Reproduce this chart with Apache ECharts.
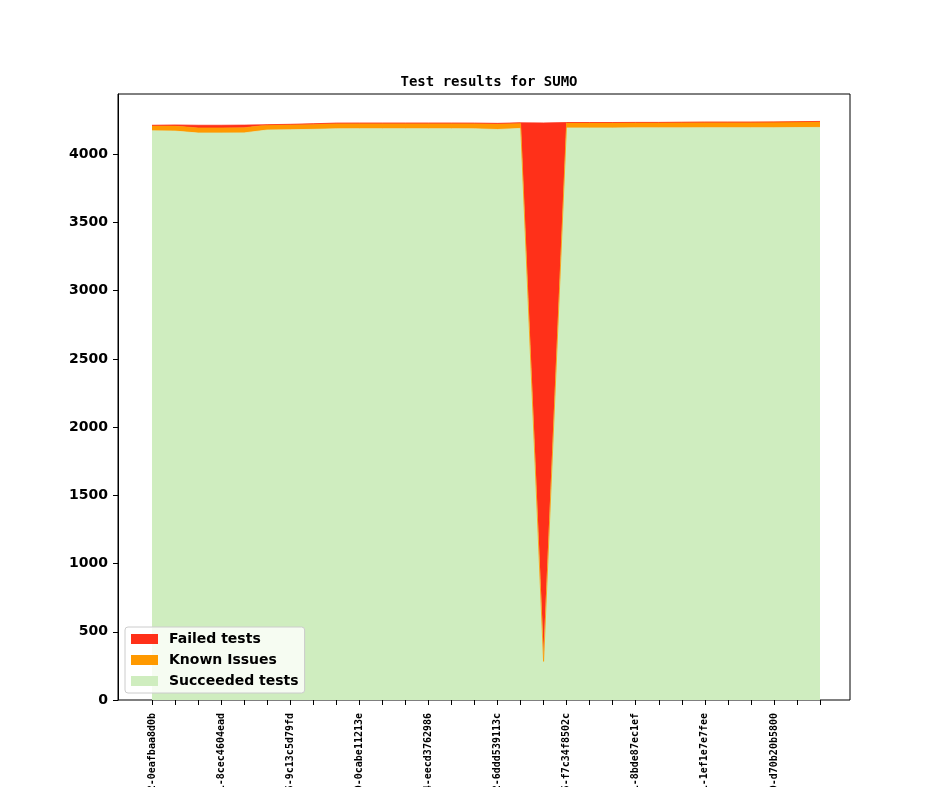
<!DOCTYPE html>
<html>
<head>
<meta charset="utf-8">
<script src="https://cdn.jsdelivr.net/npm/echarts@6/dist/echarts.min.js"></script>
<style>
  html, body { margin: 0; padding: 0; background: #fff; }
  #chart { width: 944px; height: 787px; }
</style>
</head>
<body>
<div id="chart"></div>
<script>
// commits along the x axis (only every third one gets a label)
var commits = [
    'v1_1_0+0542-0eafbaa8d0b', 'v1_1_0+0547-3a91c0de2f4', 'v1_1_0+0553-b27e4d19c06',
    'v1_1_0+0601-8cec4604ead', 'v1_1_0+0609-51f0a8e3b7d', 'v1_1_0+0618-c4d92e07a1b',
    'v1_1_0+0655-9c13c5d79fd', 'v1_1_0+0662-e08b3f61d2a', 'v1_1_0+0671-7d5a20c9e84',
    'v1_1_0+0710-0cabe11213e', 'v1_1_0+0718-a6c1f93b50e', 'v1_1_0+0725-2e8d47b0c19',
    'v1_1_0+0764-eecd3762986', 'v1_1_0+0770-4b7f0e21a3c', 'v1_1_0+0779-93d6c8a5f02',
    'v1_1_0+0812-6ddd539113c', 'v1_1_0+0826-1f4e7b92d8a', 'v1_1_0+0839-c0a35e6f71b',
    'v1_1_0+0865-f7c34f8502c', 'v1_1_0+0881-5e29d0b4a67', 'v1_1_0+0897-8a0c61f3e2d',
    'v1_1_0+0921-8bde87ec1ef', 'v1_1_0+0934-d3f70a2c95b', 'v1_1_0+0950-06b8e4d1c7a',
    'v1_1_0+0971-1ef1e7e7fee', 'v1_1_0+0989-7c25b0a9e3d', 'v1_1_0+1004-e91d3f6a082',
    'v1_1_0+1030-d70b20b5800', 'v1_1_0+1042-2a6f8c1d4e9', 'v1_1_0+1055-b5e03c7f1a2'
];

var succeeded = [4172, 4170, 4156, 4156, 4157, 4178, 4180, 4183, 4187, 4188,
                 4188, 4188, 4188, 4188, 4187, 4182, 4190, 280, 4193, 4193,
                 4193, 4194, 4194, 4194, 4195, 4195, 4195, 4195, 4196, 4197];
var known = [36, 37, 37, 37, 37, 37, 37, 38, 39, 39,
             39, 39, 39, 39, 39, 40, 39, 3, 39, 39,
             39, 39, 39, 40, 40, 40, 40, 41, 42, 43];
var failed = [5, 8, 20, 20, 20, 2, 3, 3, 3, 2,
              2, 2, 2, 2, 3, 5, 2, 3947, 1, 1,
              1, 1, 1, 1, 1, 1, 1, 1, 1, 1];

var yTicks = [0, 500, 1000, 1500, 2000, 2500, 3000, 3500, 4000];
var yMax = 4442;

var colors = {
    failed: '#ff3019',
    known: '#ff9900',
    succeeded: '#cfedbf'
};

function area(name, values, color) {
    return {
        name: name,
        type: 'line',
        stack: 'total',
        xAxisIndex: 0,
        yAxisIndex: 0,
        data: values,
        showSymbol: false,
        symbol: 'none',
        itemStyle: {color: color},
        lineStyle: {color: color, width: 0.8},
        areaStyle: {color: color, opacity: 1},
        emphasis: {disabled: true}
    };
}

var chart = echarts.init(document.getElementById('chart'));

chart.setOption({
    animation: false,
    title: {
        text: 'Test results for SUMO',
        left: 484,
        top: 70,
        textAlign: 'center',
        textStyle: {
            fontFamily: 'DejaVu Sans Mono',
            fontWeight: 'bold',
            fontSize: 14,
            color: '#000'
        }
    },
    legend: {
        data: ['Failed tests', 'Known Issues', 'Succeeded tests'],
        orient: 'vertical',
        left: 125,
        top: 627,
        icon: 'rect',
        itemWidth: 27,
        itemHeight: 10,
        itemGap: 7,
        padding: [5, 6, 5, 6],
        backgroundColor: 'rgba(255,255,255,0.8)',
        borderColor: '#cccccc',
        borderWidth: 1,
        borderRadius: 3,
        textStyle: {
            fontFamily: 'DejaVu Sans',
            fontWeight: 'bold',
            fontSize: 14,
            color: '#000',
            padding: [0, 0, 0, 6]
        }
    },
    grid: [
        { // data area: first to last commit
            left: 152,
            right: 124,
            top: 94,
            bottom: 87,
            outerBoundsMode: 'none'
        },
        { // plot frame with 5% margins left and right
            left: 118,
            right: 94,
            top: 94,
            bottom: 87,
            outerBoundsMode: 'none',
            show: true,
            borderColor: '#000',
            borderWidth: 1,
            backgroundColor: 'transparent'
        }
    ],
    xAxis: [
        {
            type: 'category',
            gridIndex: 0,
            data: commits,
            boundaryGap: false,
            splitLine: {show: false},
            axisLine: {show: false},
            axisTick: {
                show: true,
                interval: 0,
                length: 5,
                alignWithLabel: true,
                lineStyle: {color: '#000'}
            },
            axisLabel: {
                interval: 2,
                rotate: 90,
                margin: 13,
                fontFamily: 'DejaVu Sans Mono',
                fontWeight: 'bold',
                fontSize: 10,
                color: '#000'
            }
        },
        {
            type: 'value',
            gridIndex: 1,
            show: false
        }
    ],
    yAxis: [
        {
            type: 'value',
            gridIndex: 0,
            min: 0,
            max: yMax,
            show: false
        },
        {
            type: 'value',
            gridIndex: 1,
            min: 0,
            max: yMax,
            splitLine: {show: false},
            axisLine: {show: true, onZero: false, lineStyle: {color: '#000', width: 1}},
            axisTick: {
                show: true,
                length: 5,
                customValues: yTicks,
                lineStyle: {color: '#000'}
            },
            axisLabel: {
                customValues: yTicks,
                margin: 10,
                fontFamily: 'DejaVu Sans',
                fontWeight: 'bold',
                fontSize: 14,
                color: '#000',
                formatter: function (v) { return String(v); }
            }
        }
    ],
    series: [
        area('Succeeded tests', succeeded, colors.succeeded),
        area('Known Issues', known, colors.known),
        area('Failed tests', failed, colors.failed)
    ]
});
</script>
</body>
</html>
